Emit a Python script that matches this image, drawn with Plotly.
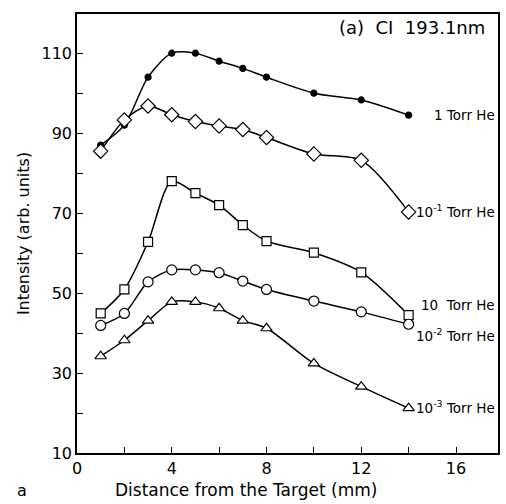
import plotly.graph_objects as go

x = [1, 2, 3, 4, 5, 6, 7, 8, 10, 12, 14]
torr_1 = [87, 92, 104, 110, 110, 108, 106.2, 104, 100, 98.3, 94.5]
torr_1e_1 = [85.5, 93.3, 96.8, 94.6, 92.9, 91.8, 90.9, 88.9, 84.8, 83.2, 70.3]
torr_10 = [44.9, 50.9, 62.8, 78, 75, 72, 67, 63, 60.1, 55.2, 44.5]
torr_1e_2 = [41.9, 44.9, 52.8, 55.8, 55.8, 55.1, 53, 50.9, 48, 45.3, 42.2]
torr_1e_3 = [34.2, 38.2, 43.1, 47.8, 47.8, 46.2, 43.1, 41.2, 32.4, 26.6, 21.2]

labels = ["1 Torr He", "10<sup>-1</sup> Torr He", "10  Torr He",
          "10<sup>-2</sup> Torr He", "10<sup>-3</sup> Torr He"]
label_y = [94.5, 70.6, 47.0, 39.4, 21.5]

x_ticks = [0, 2, 4, 6, 8, 10, 12, 14, 16]
x_ticktext = ["0", "", "4", "", "8", "", "12", "", "16"]
y_ticks = [10, 20, 30, 40, 50, 60, 70, 80, 90, 100, 110]
y_ticktext = ["10", "", "30", "", "50", "", "70", "", "90", "", "110"]

FONT = "DejaVu Sans"
L, R, T, B = 77, 500, 14, 453
series = [
    (torr_1, "circle", 6, "black"),
    (torr_1e_1, "diamond", 11, "white"),
    (torr_10, "square", 9, "white"),
    (torr_1e_2, "circle", 10, "white"),
    (torr_1e_3, "triangle-up", 10, "white"),
]

fig = go.Figure()
for ys, sym, sz, fill in series:
    fig.add_trace(go.Scatter(
        x=x, y=ys, mode="lines+markers",
        line=dict(color="black", width=1.5, shape="spline", smoothing=0.8),
        marker=dict(symbol=sym, size=sz, color=fill,
                    line=dict(color="black", width=1.2)),
        showlegend=False,
    ))

for lab, ly in zip(labels, label_y):
    fig.add_annotation(xref="paper", x=(499 - L) / (R - L), y=ly, text=lab,
                       showarrow=False, xanchor="right", yanchor="middle",
                       font=dict(family=FONT, size=13.5, color="black"))

fig.add_annotation(xref="paper", x=(489 - L) / (R - L), y=116.3,
                   text="(a)  CI  193.1nm", showarrow=False,
                   xanchor="right", yanchor="middle",
                   font=dict(family=FONT, size=18, color="black"))
fig.add_annotation(xref="paper", yref="paper", x=(22 - L) / (R - L),
                   y=(B - 490) / (B - T), text="a",
                   showarrow=False, xanchor="center", yanchor="middle",
                   font=dict(family=FONT, size=16, color="black"))
fig.add_annotation(xref="paper", yref="paper", x=(247 - L) / (R - L),
                   y=(B - 490) / (B - T),
                   text="Distance from the Target (mm)",
                   showarrow=False, xanchor="center", yanchor="middle",
                   font=dict(family=FONT, size=17, color="black"))

fig.update_xaxes(range=[0, (R - L) / 23.8], tickvals=x_ticks, ticktext=x_ticktext,
                 ticks="inside", ticklen=6, tickwidth=1.2, tickcolor="black",
                 showline=True, linecolor="black", linewidth=1.5, mirror=True,
                 showgrid=False, zeroline=False,
                 tickfont=dict(family=FONT, size=16, color="black"))
fig.update_yaxes(range=[10, 119.8], tickvals=y_ticks, ticktext=y_ticktext,
                 ticks="inside", ticklen=6, tickwidth=1.2, tickcolor="black",
                 showline=True, linecolor="black", linewidth=1.5, mirror=True,
                 showgrid=False, zeroline=False,
                 tickfont=dict(family=FONT, size=16, color="black"),
                 title=dict(text="Intensity (arb. units)", standoff=8,
                            font=dict(family=FONT, size=16, color="black")))

fig.update_layout(width=506, height=504,
                  margin=dict(l=L, r=506 - R, t=T, b=504 - B),
                  plot_bgcolor="white", paper_bgcolor="white")
fig.write_html("out.html")
